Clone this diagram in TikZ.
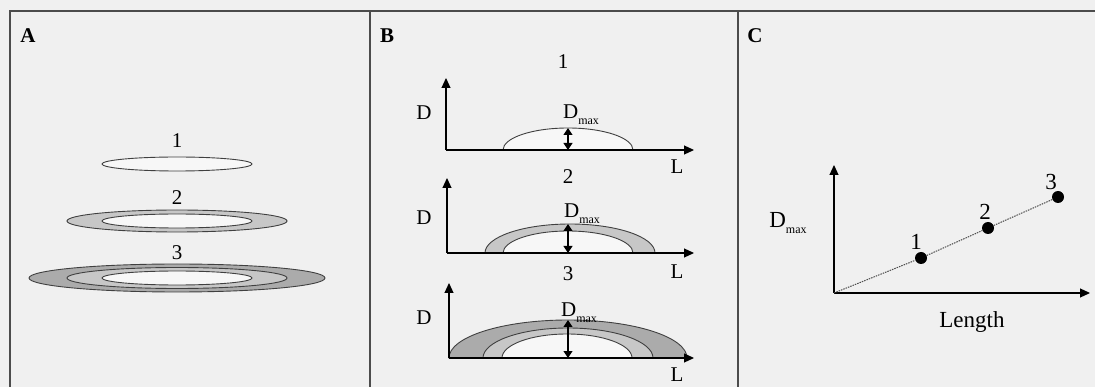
\documentclass[tikz,border=0pt]{standalone}
\usepackage{fontspec}
\setmainfont{Liberation Serif}
\usetikzlibrary{arrows.meta}
\newcommand{\dmaxlbl}{D\raisebox{-0.6ex}{\fontsize{12}{12}\selectfont max}}
\tikzset{
  frameline/.style={draw=black!70, line width=1.4pt},
  lbl/.style={font=\fontsize{21}{24}\selectfont, inner sep=0pt},
  lblc/.style={font=\fontsize{23}{26}\selectfont, inner sep=0pt},
  plabel/.style={font=\fontsize{21}{24}\selectfont\bfseries, inner sep=0pt},
  axis/.style={draw=black, line width=1.1pt, -{Triangle[length=10pt,width=9pt]}},
  dmaxarrow/.style={draw=black, line width=1.1pt, {Triangle[length=7pt,width=9pt]}-{Triangle[length=7pt,width=9pt]}},
  ringA/.style={fill=black!22, draw=black!75, line width=0.9pt},
  ringB/.style={fill=black!33, draw=black!75, line width=0.9pt},
  coreW/.style={fill=white!97!black, draw=black!75, line width=0.9pt},
  dot/.style={circle, fill=black, inner sep=0pt, minimum size=12pt},
}
\begin{document}
\begin{tikzpicture}[x=1pt,y=-1pt]
\useasboundingbox (0,0) rectangle (1095,387);
\fill[black!6] (0,0) rectangle (1095,387);
% frame
\draw[frameline] (10,387) -- (10,11) -- (1095,11);
\draw[frameline] (370,11) -- (370,387);
\draw[frameline] (738,11) -- (738,387);
\node[plabel] (la) at (28,36) {A};
\node[plabel] (lb) at (387,36) {B};
\node[plabel] (lc) at (755,36) {C};

% ---------- Panel A ----------
\node[lbl] (a1) at (177,141) {1};
\draw[coreW] (177,164) ellipse [x radius=75, y radius=7];
\node[lbl] (a2) at (177,198) {2};
\draw[ringA] (177,221) ellipse [x radius=110, y radius=11];
\draw[coreW] (177,221) ellipse [x radius=75, y radius=7];
\node[lbl] (a3) at (177,253) {3};
\draw[ringB] (177,278) ellipse [x radius=148, y radius=14];
\draw[ringA] (177,278) ellipse [x radius=110, y radius=10.5];
\draw[coreW] (177,278) ellipse [x radius=75, y radius=7];

% ---------- Panel B ----------
% plot 1
\coordinate (o1) at (446,150);
\coordinate (y1) at (446,78);
\coordinate (x1) at (694,150);
\node[lbl] (n1) at (563,62) {1};
\node[lbl] (d1) at (424,113) {D};
\node[lbl] (l1) at (677,167) {L};
\draw[coreW] (503,150) arc[start angle=180, end angle=360, x radius=65, y radius=22] -- cycle;
\draw[axis] (o1) -- (y1);
\draw[axis] (o1) -- (x1);
\coordinate (m1b) at (568,150);
\coordinate (m1t) at (568,128);
\draw[dmaxarrow] (m1t) -- (m1b);
\node[lbl, anchor=south] (dm1) at (581,125) {\dmaxlbl};

% plot 2
\coordinate (o2) at (447,253);
\coordinate (y2) at (447,178);
\coordinate (x2) at (694,253);
\node[lbl] (n2) at (568,177) {2};
\node[lbl] (d2) at (424,218) {D};
\node[lbl] (l2) at (677,272) {L};
\draw[ringA] (485,253) arc[start angle=180, end angle=360, x radius=85, y radius=29] -- cycle;
\draw[coreW] (503,253) arc[start angle=180, end angle=360, x radius=65, y radius=22] -- cycle;
\draw[axis] (o2) -- (y2);
\draw[axis] (o2) -- (x2);
\coordinate (m2b) at (568,253);
\coordinate (m2t) at (568,224);
\draw[dmaxarrow] (m2t) -- (m2b);
\node[lbl, anchor=south] (dm2) at (582,224) {\dmaxlbl};

% plot 3
\coordinate (o3) at (449,358);
\coordinate (y3) at (449,283);
\coordinate (x3) at (694,358);
\node[lbl] (n3) at (568,274) {3};
\node[lbl] (d3) at (424,318) {D};
\node[lbl] (l3) at (677,375) {L};
\draw[ringB] (449,358) arc[start angle=180, end angle=360, x radius=119, y radius=38] -- cycle;
\draw[ringA] (483,358) arc[start angle=180, end angle=360, x radius=85, y radius=30] -- cycle;
\draw[coreW] (502,358) arc[start angle=180, end angle=360, x radius=65, y radius=24] -- cycle;
\draw[axis] (o3) -- (y3);
\draw[axis] (o3) -- (x3);
\coordinate (m3b) at (568,358);
\coordinate (m3t) at (568,320);
\draw[dmaxarrow] (m3t) -- (m3b);
\node[lbl, anchor=south] (dm3) at (579,323) {\dmaxlbl};

% ---------- Panel C ----------
\coordinate (oc) at (834,293);
\coordinate (yc) at (834,165);
\coordinate (xc) at (1090,293);
\draw[axis] (oc) -- (yc);
\draw[axis] (oc) -- (xc);
\node[lblc] (dmc) at (788,223) {\dmaxlbl};
\node[lblc] (len) at (972,322) {Length};
\node[dot] (p1) at (921,258) {};
\node[dot] (p2) at (988,228) {};
\node[dot] (p3) at (1058,197) {};
\draw[black!70, line width=1pt, dash pattern=on 1.5pt off 1pt] (oc) -- (p1) -- (p2) -- (p3);
\node[lblc] (c1) at (916,242) {1};
\node[lblc] (c2) at (985,212) {2};
\node[lblc] (c3) at (1051,182) {3};
\end{tikzpicture}
\end{document}
